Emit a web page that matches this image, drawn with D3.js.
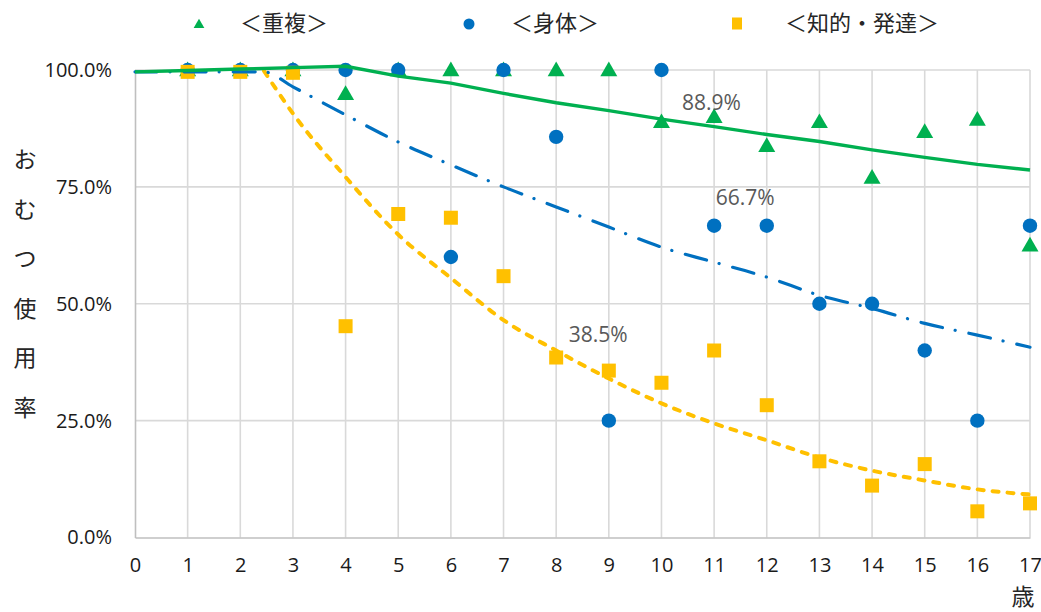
<!DOCTYPE html>
<html lang="ja">
<head>
<meta charset="utf-8">
<script src="https://cdn.jsdelivr.net/npm/d3@7"></script>
<style>
  html, body { margin: 0; padding: 0; background: #fff; }
  svg { display: block; }
  .tick text { font-family: "Open Sans", "Noto Sans", sans-serif; }
  .jp { font-family: "Noto Sans CJK JP", "Noto Sans", sans-serif; }
</style>
</head>
<body>
<svg id="chart" width="1041" height="612"></svg>
<script>
// Ages on the x axis and tick values
const ages = [1, 2, 3, 4, 5, 6, 7, 8, 9, 10, 11, 12, 13, 14, 15, 16, 17];
const xTicks = [0, 1, 2, 3, 4, 5, 6, 7, 8, 9, 10, 11, 12, 13, 14, 15, 16, 17];
const yTicks = [0, 25, 50, 75, 100];

// Observed diaper-use rates (%) by age
const jufuku = [100, 100, 100, 94.9, 100, 100, 100, 100, 100, 88.9, 90.0, 83.8, 88.9, 77.0, 86.8, 89.4, 62.5];
const shintai = [100, 100, 100, 100, 100, 60.0, 100, 85.7, 25.0, 100, 66.7, 66.7, 50.0, 50.0, 40.0, 25.0, 66.7];
const chiteki = [99.6, 99.6, 99.4, 45.2, 69.2, 68.4, 55.9, 38.5, 35.7, 33.1, 40.0, 28.3, 16.3, 11.1, 15.7, 5.6, 7.3];

// Trend curves (%) sampled by age
const trendJufukuAges = [0, 1, 2, 3, 4, 5, 6, 7, 8, 9, 10, 11, 12, 13, 14, 15, 16, 17];
const trendJufuku = [99.6, 99.9, 100.2, 100.5, 100.8, 98.7, 97.2, 95.0, 93.0, 91.3, 89.5, 87.9, 86.2, 84.7, 82.9, 81.3, 79.8, 78.6];
const trendShintaiAges = [0, 2.45, 3, 4, 5, 6, 7, 8, 9, 10, 11, 12, 13, 14, 15, 16, 17];
const trendShintai = [99.6, 99.6, 96.4, 90.4, 84.6, 79.7, 75.0, 70.7, 66.4, 62.1, 58.9, 55.7, 51.8, 49.0, 45.8, 43.3, 40.7];
const trendChitekiAges = [2.45, 3, 4, 5, 6, 7, 8, 9, 10, 11, 12, 13, 14, 15, 16, 17];
const trendChiteki = [99.8, 90.7, 77.1, 64.8, 55.5, 46.5, 40.0, 34.0, 28.7, 24.4, 20.8, 17.1, 14.3, 12.2, 10.3, 9.2];

// Value callouts: [age, value, text, dx, dy]
const callouts = [
  [10, 88.9, "88.9%", 50, -19],
  [11, 66.7, "66.7%", 31, -28],
  [8, 38.5, "38.5%", 42, -23]
];

const seriesNames = ["＜重複＞", "＜身体＞", "＜知的・発達＞"];
const yTitle = ["お", "む", "つ", "使", "用", "率"];
const xUnit = "歳";

const GREEN = "#00B050", BLUE = "#0070C0", YELLOW = "#FFC000";

const svg = d3.select("#chart");
const x = d3.scaleLinear().domain([0, 17]).range([135, 1030]);
const y = d3.scaleLinear().domain([0, 100]).range([537.5, 70]);

// Gridlines
const grid = svg.append("g");
grid.selectAll("line.v").data(xTicks.slice(1)).join("line")
  .attr("x1", d => x(d)).attr("x2", d => x(d))
  .attr("y1", y(0)).attr("y2", y(100))
  .attr("stroke", "#D9D9D9").attr("stroke-width", 1.6);
grid.selectAll("line.h").data(yTicks.slice(1)).join("line")
  .attr("x1", x(0)).attr("x2", x(17))
  .attr("y1", d => y(d)).attr("y2", d => y(d))
  .attr("stroke", "#D9D9D9").attr("stroke-width", 1.6);

// Axes
const yAxis = svg.append("g").attr("transform", `translate(${x(0)},0)`)
  .call(d3.axisLeft(y).tickValues(yTicks).tickSize(0).tickPadding(23)
    .tickFormat(d => d3.format(".1f")(d) + "%"));
const xAxis = svg.append("g").attr("transform", `translate(0,${y(0)})`)
  .call(d3.axisBottom(x).tickValues(xTicks).tickSize(0).tickPadding(17)
    .tickFormat(d3.format("d")));
[yAxis, xAxis].forEach(a => {
  a.select(".domain").attr("stroke", "#BFBFBF").attr("stroke-width", 1.6);
  a.selectAll(".tick text").attr("fill", "#1a1a1a").style("font-size", "20px");
});
xAxis.selectAll(".tick text").attr("dy", "0.32em").attr("y", 28.5);

// Markers
const triangle = d3.symbol().type(d3.symbolTriangle).size(125);
const legendTriangle = d3.symbol().type(d3.symbolTriangle).size(50);

svg.append("g").selectAll("path").data(ages.map((a, i) => [a, jufuku[i]])).join("path")
  .attr("d", triangle)
  .attr("transform", d => `translate(${x(d[0])},${y(d[1]) + 1.3})`)
  .attr("fill", GREEN);

svg.append("g").selectAll("circle").data(ages.map((a, i) => [a, shintai[i]])).join("circle")
  .attr("cx", d => x(d[0])).attr("cy", d => y(d[1])).attr("r", 7.2)
  .attr("fill", BLUE);

svg.append("g").selectAll("rect").data(ages.map((a, i) => [a, chiteki[i]])).join("rect")
  .attr("x", d => x(d[0]) - 7).attr("y", d => y(d[1]) - 7)
  .attr("width", 14).attr("height", 14)
  .attr("fill", YELLOW);

// Trend lines
function trend(agesArr, vals, color, dash, width, curve) {
  const line = d3.line().x(d => x(d[0])).y(d => y(d[1])).curve(curve);
  svg.append("path")
    .datum(agesArr.map((a, i) => [a, vals[i]]))
    .attr("d", line)
    .attr("fill", "none")
    .attr("stroke", color)
    .attr("stroke-width", width)
    .attr("stroke-linecap", dash ? "round" : "butt")
    .attr("stroke-dasharray", dash);
}
trend(trendChitekiAges, trendChiteki, YELLOW, "6 9", 4, d3.curveMonotoneX);
trend(trendShintaiAges, trendShintai, BLUE, "22 13 0.1 14", 3.2, d3.curveMonotoneX);
trend(trendJufukuAges, trendJufuku, GREEN, null, 3.4, d3.curveLinear);

// Value callouts
svg.append("g").selectAll("text").data(callouts).join("text")
  .attr("x", d => x(d[0]) + d[3])
  .attr("y", d => y(d[1]) + d[4])
  .attr("dy", "0.35em")
  .attr("text-anchor", "middle")
  .attr("fill", "#595959")
  .style("font-family", '"Open Sans", "Noto Sans", sans-serif')
  .style("font-size", "21px")
  .text(d => d[2]);

// Legend
const legendX = [199, 469, 737];
const legendTextX = [284, 555, 862];
const lg = svg.append("g");
lg.append("path").attr("d", legendTriangle).attr("transform", `translate(${legendX[0]},25)`).attr("fill", GREEN);
lg.append("circle").attr("cx", legendX[1]).attr("cy", 24).attr("r", 5.5).attr("fill", BLUE);
lg.append("rect").attr("x", legendX[2] - 5).attr("y", 17.5).attr("width", 10).attr("height", 12).attr("fill", YELLOW);
lg.selectAll("text").data(seriesNames).join("text")
  .attr("class", "jp")
  .attr("x", (d, i) => legendTextX[i]).attr("y", 23)
  .attr("dy", "0.36em")
  .attr("text-anchor", "middle")
  .attr("fill", "#262626")
  .style("font-size", "22px")
  .text(d => d);

// Axis titles
svg.append("g").selectAll("text").data(yTitle).join("text")
  .attr("class", "jp")
  .attr("x", 25).attr("y", (d, i) => 160 + i * 49.5)
  .attr("dy", "0.36em")
  .attr("text-anchor", "middle")
  .attr("fill", "#262626")
  .style("font-size", "23px")
  .text(d => d);

svg.append("text").attr("class", "jp")
  .attr("x", 1023).attr("y", 597).attr("dy", "0.36em")
  .attr("text-anchor", "middle")
  .attr("fill", "#262626")
  .style("font-size", "23px")
  .text(xUnit);
</script>
</body>
</html>
